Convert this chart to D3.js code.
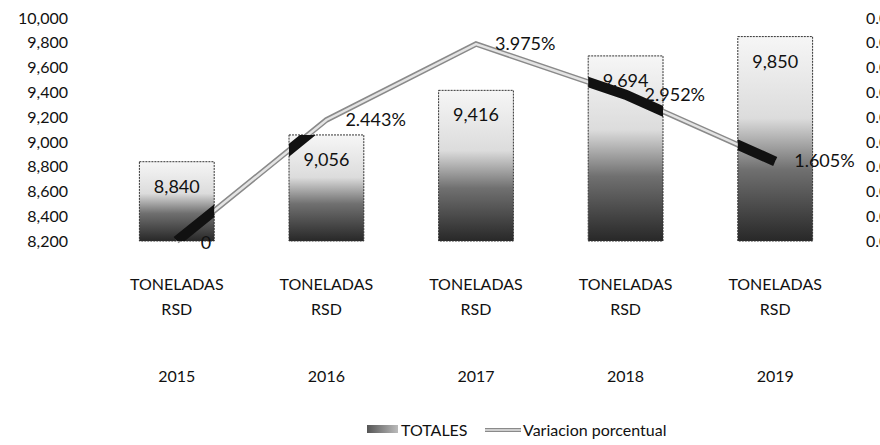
<!DOCTYPE html>
<html>
<head>
<meta charset="utf-8">
<script src="https://cdn.jsdelivr.net/npm/d3@7"></script>
<style>
  body { margin: 0; background: #fff; }
  svg text { font-family: Lato, "Liberation Sans", sans-serif; fill: #111; }
</style>
</head>
<body>
<div id="chart"></div>
<script>
// data
var years       = ["2015", "2016", "2017", "2018", "2019"];
var categories  = ["TONELADAS RSD", "TONELADAS RSD", "TONELADAS RSD", "TONELADAS RSD", "TONELADAS RSD"];
var totales     = [8840, 9056, 9416, 9694, 9850];
var variacion   = [0, 2.443, 3.975, 2.952, 1.605];   // percent
var left_ticks  = [8200, 8400, 8600, 8800, 9000, 9200, 9400, 9600, 9800, 10000];
var right_ticks = [0, 0.005, 0.01, 0.015, 0.02, 0.025, 0.03, 0.035, 0.04, 0.045];

const chart_width = 880, chart_height = 445;

var svg = d3.select("#chart")
	.append("svg")
	.attr("width", chart_width)
	.attr("height", chart_height);

// gradient used by the bars (light top, dark bottom)
var defs = svg.append("defs");
var grad = defs.append("linearGradient")
	.attr("id", "barGrad")
	.attr("x1", 0).attr("y1", 0).attr("x2", 0).attr("y2", 1);
grad.append("stop").attr("offset", "0%").attr("stop-color", "#f6f6f6");
grad.append("stop").attr("offset", "40%").attr("stop-color", "#dcdcdc");
grad.append("stop").attr("offset", "65%").attr("stop-color", "#707070");
grad.append("stop").attr("offset", "100%").attr("stop-color", "#282828");

var gradH = defs.append("linearGradient")
	.attr("id", "legGrad")
	.attr("x1", 0).attr("y1", 0).attr("x2", 1).attr("y2", 0);
gradH.append("stop").attr("offset", "0%").attr("stop-color", "#555");
gradH.append("stop").attr("offset", "100%").attr("stop-color", "#bbb");

// scales
const x_scale = d3.scaleBand()
	.domain(d3.range(years.length))
	.range([102, 850])
	.paddingInner(0.5)
	.paddingOuter(0.25);

const y_scale = d3.scaleLinear()
	.domain([8200, 10000])
	.range([241, 18]);

const y2_scale = d3.scaleLinear()
	.domain([0, 0.045])
	.range([241, 18]);

// axes (labels only)
var yAxis = svg.append("g")
	.attr("transform", "translate(70,0)")
	.call(d3.axisLeft(y_scale).tickValues(left_ticks).tickSize(0).tickPadding(2).tickFormat(d3.format(",")));
yAxis.select(".domain").remove();
yAxis.selectAll("text").style("font-size", "16px").attr("fill", "#111");

// the right axis runs off the page edge in the original scan
var y2Axis = svg.append("g")
	.attr("transform", "translate(866,0)")
	.call(d3.axisRight(y2_scale).tickValues(right_ticks).tickSize(0).tickPadding(0).tickFormat(d3.format(".3f")));
y2Axis.select(".domain").remove();
y2Axis.selectAll("text").style("font-size", "16px").attr("fill", "#111");

// bars
svg.selectAll("rect.bar")
	.data(totales)
	.enter()
	.append("rect")
	.attr("class", "bar")
	.attr("x", (d, i) => x_scale(i))
	.attr("y", d => y_scale(d))
	.attr("width", x_scale.bandwidth())
	.attr("height", d => y_scale(8200) - y_scale(d))
	.attr("fill", "url(#barGrad)")
	.attr("stroke", "#333")
	.attr("stroke-width", 1)
	.attr("stroke-dasharray", "2,1");

// clip path of the bars: where the line crosses a bar the scan shows it black
var clip = defs.append("clipPath").attr("id", "barClip");
clip.selectAll("rect")
	.data(totales)
	.enter()
	.append("rect")
	.attr("x", (d, i) => x_scale(i))
	.attr("y", d => y_scale(d))
	.attr("width", x_scale.bandwidth())
	.attr("height", d => y_scale(8200) - y_scale(d));

// bar value labels
svg.selectAll("text.val")
	.data(totales)
	.enter()
	.append("text")
	.attr("class", "val")
	.text(d => d3.format(",")(d))
	.attr("x", (d, i) => x_scale(i) + x_scale.bandwidth() / 2)
	.attr("y", d => y_scale(d) + 31)
	.attr("text-anchor", "middle")
	.style("font-size", "18px");

// percentage line
var line = d3.line()
	.x((d, i) => x_scale(i) + x_scale.bandwidth() / 2)
	.y(d => y2_scale(d / 100));

svg.append("path")
	.datum(variacion)
	.attr("d", line)
	.attr("fill", "none")
	.attr("stroke", "#8a8a8a")
	.attr("stroke-width", 5.5);
svg.append("path")
	.datum(variacion)
	.attr("d", line)
	.attr("fill", "none")
	.attr("stroke", "#e4e4e4")
	.attr("stroke-width", 2.5);
svg.append("path")
	.datum(variacion)
	.attr("d", line)
	.attr("clip-path", "url(#barClip)")
	.attr("fill", "none")
	.attr("stroke", "#111")
	.attr("stroke-width", 10);

// percentage labels
svg.selectAll("text.pct")
	.data(variacion)
	.enter()
	.append("text")
	.attr("class", "pct")
	.text(d => d === 0 ? "0" : d.toFixed(3) + "%")
	.attr("x", (d, i) => x_scale(i) + x_scale.bandwidth() / 2 + (d === 0 ? 24 : 19))
	.attr("y", d => y2_scale(d / 100) + (d === 0 ? 8 : 6))
	.style("font-size", "18px");

// category axis: two levels
var cats = svg.append("g");
categories.forEach((c, i) => {
	var cx = x_scale(i) + x_scale.bandwidth() / 2;
	var words = c.split(" ");
	cats.append("text")
		.attr("x", cx).attr("y", 290)
		.attr("text-anchor", "middle")
		.style("font-size", "16px")
		.text(words[0]);
	cats.append("text")
		.attr("x", cx).attr("y", 315)
		.attr("text-anchor", "middle")
		.style("font-size", "16px")
		.text(words[1]);
	cats.append("text")
		.attr("x", cx).attr("y", 382)
		.attr("text-anchor", "middle")
		.style("font-size", "16px")
		.text(years[i]);
});

// legend
var legend = svg.append("g");
legend.append("rect")
	.attr("x", 367).attr("y", 425).attr("width", 31).attr("height", 8)
	.attr("fill", "url(#legGrad)");
legend.append("text")
	.attr("x", 401).attr("y", 436)
	.style("font-size", "16px")
	.text("TOTALES");
legend.append("line")
	.attr("x1", 485).attr("x2", 521).attr("y1", 430).attr("y2", 430)
	.attr("stroke", "#8a8a8a").attr("stroke-width", 4);
legend.append("line")
	.attr("x1", 485).attr("x2", 521).attr("y1", 430).attr("y2", 430)
	.attr("stroke", "#e4e4e4").attr("stroke-width", 1.5);
legend.append("text")
	.attr("x", 523).attr("y", 436)
	.style("font-size", "16px")
	.text("Variacion porcentual");
</script>
</body>
</html>
